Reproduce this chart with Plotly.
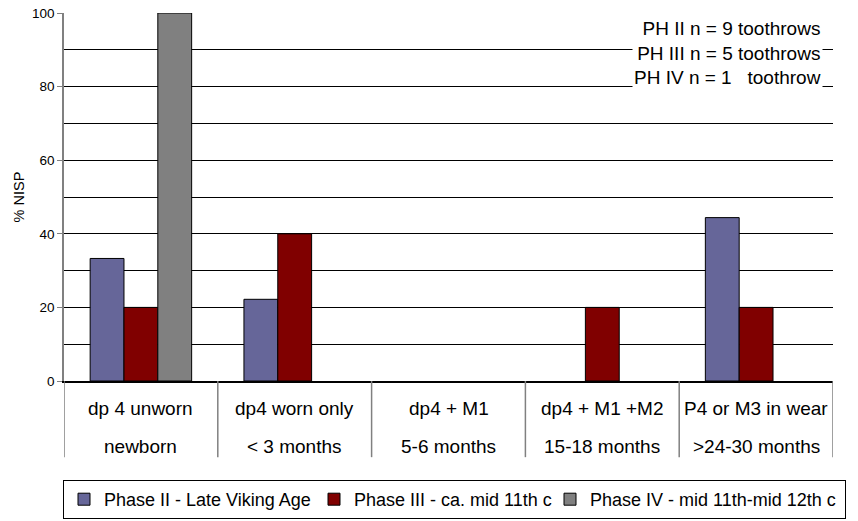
import plotly.graph_objects as go

cat_line1 = ["dp 4 unworn", "dp4 worn only", "dp4 + M1", "dp4 + M1 +M2", "P4 or M3 in wear"]
cat_line2 = ["newborn", "< 3 months", "5-6 months", "15-18 months", ">24-30 months"]
series_names = ["Phase II - Late Viking Age", "Phase III - ca. mid 11th c", "Phase IV - mid 11th-mid 12th c"]
phase2 = [33.3, 22.2, 0, 0, 44.4]
phase3 = [20, 40, 0, 20, 20]
phase4 = [100, 0, 0, 0, 0]
colors = ["#666699", "#800000", "#808080"]
legend_widths = [205, 191, 250]
note_lines = ["PH II n = 9 toothrows", "PH III n = 5 toothrows", "PH IV n = 1   toothrow"]

FONT = "Liberation Sans, Arial, sans-serif"
BIG = 19
LEG = 18
x = list(range(len(cat_line1)))

fig = go.Figure()
for name, vals, col, lw in zip(series_names, [phase2, phase3, phase4], colors, legend_widths):
    fig.add_trace(go.Bar(x=x, y=[v if v else None for v in vals], name=name, legendwidth=lw,
                         marker=dict(color=col, line=dict(color="black", width=1))))

shapes = []
for i in range(len(cat_line1) + 1):
    shapes.append(dict(type="line", xref="x", yref="paper", x0=i - 0.5, x1=i - 0.5, y0=0, y1=-0.207,
                       line=dict(color="#808080", width=1.5)))
annotations = []
for i, (a, b) in enumerate(zip(cat_line1, cat_line2)):
    annotations.append(dict(x=i, y=-0.076, xref="x", yref="paper", text=a, showarrow=False,
                            font=dict(size=BIG, color="black", family=FONT), yanchor="middle"))
    annotations.append(dict(x=i, y=-0.177, xref="x", yref="paper", text=b, showarrow=False,
                            font=dict(size=BIG, color="black", family=FONT), yanchor="middle"))
annotations.append(dict(x=0.987, y=0.993, xref="paper", yref="paper", xanchor="right", yanchor="top",
                        text="<br>".join(note_lines), align="right", showarrow=False, bgcolor="white",
                        borderpad=1, font=dict(size=BIG, color="black", family=FONT)))

# page body has an 8px margin, so the figure is sized to the visible part of the window
fig.update_layout(
    width=850, height=513,
    margin=dict(l=56, r=25, t=5, b=140, autoexpand=False),
    plot_bgcolor="white", paper_bgcolor="white",
    barmode="group", bargap=0.34, bargroupgap=0,
    font=dict(family=FONT, color="black"),
    xaxis=dict(range=[-0.5, 4.5], showticklabels=False, showgrid=False, zeroline=False,
               showline=True, linecolor="black", linewidth=1.5, ticks="", automargin=False),
    yaxis=dict(range=[0, 100], tickvals=[0, 20, 40, 60, 80, 100], ticks="outside", ticklen=5,
               tickcolor="#808080", showgrid=False, zeroline=False, showline=True, linecolor="#808080",
               linewidth=1.5, tickfont=dict(size=13.5, family=FONT), automargin=False,
               ticklabeloverflow="allow",
               title=dict(text="% NISP", font=dict(size=14.5, family=FONT), standoff=4),
               minor=dict(dtick=10, tick0=0, showgrid=True, gridcolor="black", gridwidth=1)),
    legend=dict(orientation="h", x=-0.0013, y=-0.269, xanchor="left", yanchor="top",
                bordercolor="black", borderwidth=1, font=dict(size=LEG, family=FONT),
                itemwidth=30, tracegroupgap=0),
    shapes=shapes, annotations=annotations,
)
fig.write_html("out.html")
